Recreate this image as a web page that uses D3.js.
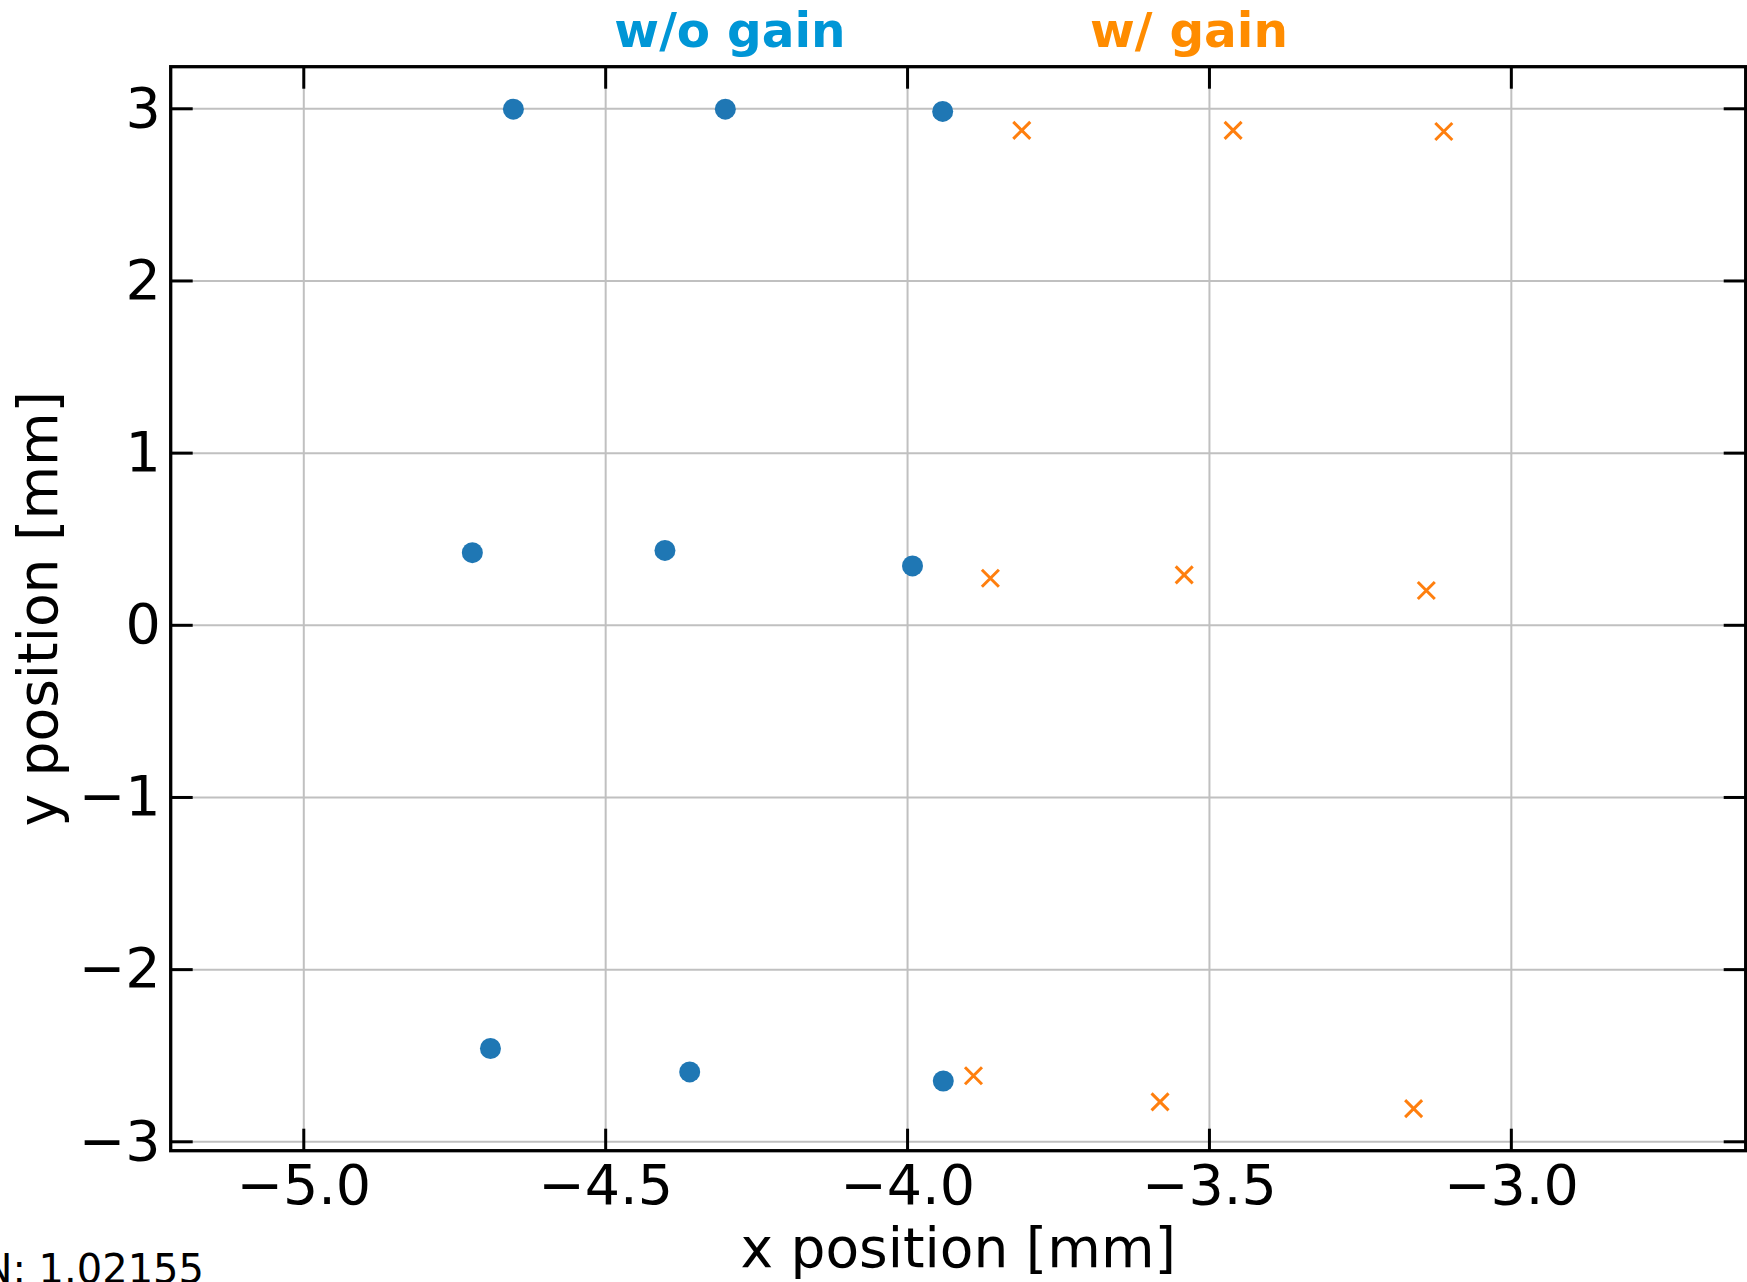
<!DOCTYPE html>
<html>
<head>
<meta charset="utf-8">
<script src="https://cdn.jsdelivr.net/npm/d3@7"></script>
<style>
  body { margin: 0; background: #fff; }
  svg { display: block; font-family: "DejaVu Sans", sans-serif; }
</style>
</head>
<body>
<div class="chart"></div>
<script>
// measured positions, without gain (blue) and with gain (orange)
var noGainX = [-4.652, -4.301, -3.941, -4.720, -4.401, -3.991, -4.690, -4.360, -3.940];
var noGainY = [2.995, 2.995, 2.982, 0.419, 0.432, 0.342, -2.461, -2.597, -2.650];
var gainX = [-3.810, -3.460, -3.111, -3.862, -3.541, -3.140, -3.890, -3.581, -3.161];
var gainY = [2.872, 2.872, 2.865, 0.270, 0.290, 0.199, -2.619, -2.771, -2.810];

var xTicks = [-5.0, -4.5, -4.0, -3.5, -3.0];
var yTicks = [-3, -2, -1, 0, 1, 2, 3];
var titles = [`w/o gain`, `w/ gain`];
var note = `N: 1.02155`;

var fullWidth = 1747, fullHeight = 1282;
var margin = {top: 66.7, left: 170.7, right: 1.3, bottom: 131.3};
var width = fullWidth - margin.left - margin.right;
var height = fullHeight - margin.top - margin.bottom;

var svg = d3.select(`.chart`)
    .append(`svg`)
    .attr(`width`, fullWidth)
    .attr(`height`, fullHeight);

var g = svg.append(`g`)
    .attr(`transform`, `translate(${margin.left},${margin.top})`);

var xScale = d3.scaleLinear()
    .domain([-5.2196, -2.611])
    .range([0, width]);

var yScale = d3.scaleLinear()
    .domain([-3.0546, 3.2416])
    .range([height, 0]);

// grid
g.append(`g`)
    .attr(`transform`, `translate(0, ${height})`)
    .call(d3.axisBottom(xScale).tickValues(xTicks).tickSize(-height).tickFormat(``))
    .call(s => s.select(`.domain`).remove())
    .selectAll(`line`).attr(`stroke`, `#c0c0c0`).attr(`stroke-width`, 2);

g.append(`g`)
    .call(d3.axisLeft(yScale).tickValues(yTicks).tickSize(-width).tickFormat(``))
    .call(s => s.select(`.domain`).remove())
    .selectAll(`line`).attr(`stroke`, `#c0c0c0`).attr(`stroke-width`, 2);

var xy = (xs, ys) => xs.map((x, i) => ({x: x, y: ys[i]}));

g.selectAll(`.dot`)
    .data(xy(noGainX, noGainY))
    .enter()
    .append(`circle`)
    .attr(`class`, `dot`)
    .attr(`cx`, d => xScale(d.x))
    .attr(`cy`, d => yScale(d.y))
    .attr(`r`, 10.5)
    .style(`fill`, `#1f77b4`);

var arm = 8.5;
g.selectAll(`.cross`)
    .data(xy(gainX, gainY))
    .enter()
    .append(`path`)
    .attr(`class`, `cross`)
    .attr(`transform`, d => `translate(${xScale(d.x)},${yScale(d.y)})`)
    .attr(`d`, `M${-arm},${-arm}L${arm},${arm}M${-arm},${arm}L${arm},${-arm}`)
    .attr(`stroke`, `#ff7f0e`)
    .attr(`stroke-width`, 3)
    .attr(`fill`, `none`);

// axes, ticks pointing inwards on all four sides
function styleAxis(s) {
    s.attr(`font-family`, null).attr(`font-size`, null);
    s.select(`.domain`).remove();
    s.selectAll(`.tick line`).attr(`stroke`, `#000`).attr(`stroke-width`, 3);
    s.selectAll(`text`)
        .attr(`fill`, `#000`)
        .style(`font-family`, `"DejaVu Sans", sans-serif`)
        .style(`font-size`, `55.5px`);
}

var bottomAxis = g.append(`g`)
    .attr(`transform`, `translate(0, ${height})`)
    .call(d3.axisBottom(xScale).tickValues(xTicks).tickSize(-22).tickPadding(14).tickFormat(d3.format(`.1f`)))
    .call(styleAxis);
bottomAxis.selectAll(`text`).attr(`dy`, `0.71em`);

g.append(`g`)
    .call(d3.axisTop(xScale).tickValues(xTicks).tickSize(-22).tickFormat(``))
    .call(styleAxis);

g.append(`g`)
    .call(d3.axisLeft(yScale).tickValues(yTicks).tickSize(-22).tickPadding(10).tickFormat(d3.format(`d`)))
    .call(styleAxis);

g.append(`g`)
    .attr(`transform`, `translate(${width}, 0)`)
    .call(d3.axisRight(yScale).tickValues(yTicks).tickSize(-22).tickFormat(``))
    .call(styleAxis);

g.append(`rect`)
    .attr(`width`, width)
    .attr(`height`, height)
    .attr(`fill`, `none`)
    .attr(`stroke`, `#000`)
    .attr(`stroke-width`, 3.3);

// labels
g.append(`text`)
    .attr(`x`, width / 2)
    .attr(`y`, height + 116)
    .attr(`text-anchor`, `middle`)
    .style(`font-size`, `55px`)
    .text(`x position [mm]`);

svg.append(`text`)
    .attr(`transform`, `translate(57, ${margin.top + height / 2}) rotate(-90)`)
    .attr(`text-anchor`, `middle`)
    .style(`font-size`, `55px`)
    .text(`y position [mm]`);

svg.selectAll(`.title`)
    .data(titles)
    .enter()
    .append(`text`)
    .attr(`class`, `title`)
    .attr(`x`, (d, i) => [730, 1189][i])
    .attr(`y`, 47)
    .attr(`text-anchor`, `middle`)
    .style(`font-size`, `48.5px`)
    .style(`font-weight`, `bold`)
    .style(`fill`, (d, i) => [`#0096d6`, `#ff8c00`][i])
    .text(d => d);

svg.append(`text`)
    .attr(`x`, 204)
    .attr(`y`, 1283)
    .attr(`text-anchor`, `end`)
    .style(`font-size`, `40px`)
    .text(note);
</script>
</body>
</html>
